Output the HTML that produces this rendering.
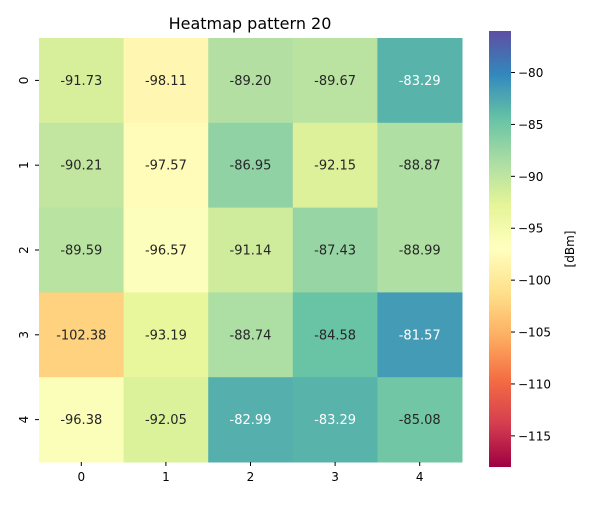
<!DOCTYPE html>
<html><head><meta charset="utf-8"><style>
body{margin:0;background:#fff;font-family:"Liberation Sans","DejaVu Sans",sans-serif}
svg text{font-family:"DejaVu Sans","Liberation Sans",sans-serif}
</style></head><body>
<svg id="c" width="600" height="500" xmlns="http://www.w3.org/2000/svg"></svg>
<script>
const rowLabels=["0","1","2","3","4"];
const colLabels=["0","1","2","3","4"];
const values=[
[-91.73,-98.11,-89.20,-89.67,-83.29],
[-90.21,-97.57,-86.95,-92.15,-88.87],
[-89.59,-96.57,-91.14,-87.43,-88.99],
[-102.38,-93.19,-88.74,-84.58,-81.57],
[-96.38,-92.05,-82.99,-83.29,-85.08]];
const cbTicks=[-80,-85,-90,-95,-100,-105,-110,-115];
const vmin=-118,vmax=-76;
const stops=["#9e0142","#d53e4f","#f46d43","#fdae61","#fee08b","#ffffbf","#e6f598","#abdda4","#66c2a5","#3288bd","#5e4fa2"];
const NS="http://www.w3.org/2000/svg";
const svg=document.getElementById('c');
function mk(t,a,p){const e=document.createElementNS(NS,t);for(const k in a)e.setAttribute(k,a[k]);(p||svg).appendChild(e);return e;}
function hex(h){return[1,3,5].map(i=>parseInt(h.substr(i,2),16));}
function cmap(v){let t=(v-vmin)/(vmax-vmin);t=Math.max(0,Math.min(1,t))*(stops.length-1);const i=Math.min(Math.floor(t),stops.length-2),f=t-i;const a=hex(stops[i]),b=hex(stops[i+1]);return a.map((x,k)=>Math.round(x+(b[k]-x)*f));}
function lum(c){const l=c.map(x=>{x/=255;return x<=0.03928?x/12.92:Math.pow((x+0.055)/1.055,2.4)});return 0.2126*l[0]+0.7152*l[1]+0.0722*l[2];}
const X0=39,X1=462,Y0=38,Y1=462;
const cw=(X1-X0)/colLabels.length,ch=(Y1-Y0)/rowLabels.length;
const xs=j=>X0+j*cw, ys=i=>Y0+i*ch;
let t=mk('text',{x:250,y:29,'text-anchor':'middle','font-size':16,fill:'#000'});t.textContent='Heatmap pattern 20';

values.forEach((row,i)=>row.forEach((v,j)=>{
 const c=cmap(v);
 const r=mk('rect',{x:xs(j),y:ys(i),width:cw+0.5,height:ch+0.5,fill:`rgb(${c})`});
 
 
 const tx=mk('text',{x:xs(j)+cw/2,y:ys(i)+ch/2+4.5,'text-anchor':'middle','font-size':13,fill:lum(c)>0.408?'#262626':'#fff'});
 tx.textContent=v.toFixed(2);
 
 
}));
colLabels.forEach((l,j)=>{const x=xs(j)+cw/2;mk('line',{x1:x,x2:x,y1:Y1,y2:Y1+4,stroke:'#000'});
 const e=mk('text',{x:x,y:Y1+19,'text-anchor':'middle','font-size':12});e.textContent=l;
 });
rowLabels.forEach((l,i)=>{const y=ys(i)+ch/2;mk('line',{x1:X0-4,x2:X0,y1:y,y2:y,stroke:'#000'});
 const e=mk('text',{x:0,y:0,'text-anchor':'middle','font-size':12,transform:`translate(${X0-11},${y}) rotate(-90)`});e.textContent=l;
 });
// colorbar
const CX=489,CW=22,CY0=31,CY1=467;
const cy=v=>CY1-(v-vmin)/(vmax-vmin)*(CY1-CY0);
const defs=mk('defs',{});const g=mk('linearGradient',{id:'cg',x1:0,y1:1,x2:0,y2:0},defs);
for(let k=0;k<=40;k++){const v=vmin+(vmax-vmin)*k/40;mk('stop',{offset:k/40,'stop-color':`rgb(${cmap(v)})`},g);}
const cb=mk('rect',{x:CX,y:CY0,width:CW,height:CY1-CY0,fill:'url(#cg)'});

cbTicks.forEach(v=>{const y=cy(v);mk('line',{x1:CX+CW,x2:CX+CW+4,y1:y,y2:y,stroke:'#000'});
 const e=mk('text',{x:CX+CW+7,y:y+4.5,'font-size':12});e.textContent='\u2212'+Math.abs(v);
 });
const lb=mk('text',{x:0,y:0,'text-anchor':'middle','font-size':12,transform:`translate(574,${(CY0+CY1)/2}) rotate(-90)`});lb.textContent='[dBm]';

</script>
</body></html>
